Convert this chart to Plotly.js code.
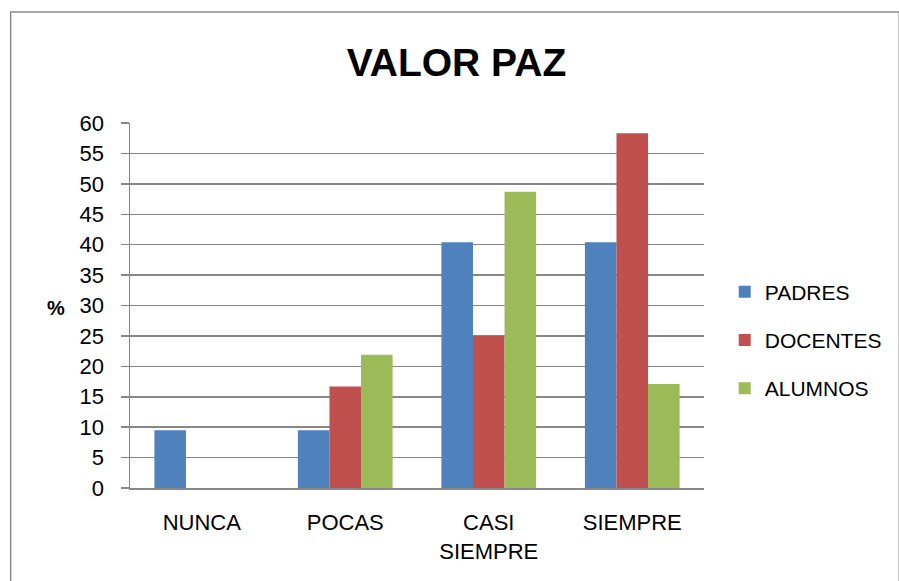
<!DOCTYPE html>
<html>
<head>
<meta charset="utf-8">
<script src="https://cdn.plot.ly/plotly-3.0.1.min.js"></script>
<style>html,body{margin:0;padding:0;background:#fff;}#chart{width:899px;height:581px;}</style>
</head>
<body>
<div id="chart"></div>
<script>
// Data
const categories = ["NUNCA", "POCAS", "CASI<br>SIEMPRE", "SIEMPRE"];
const padres = [9.5, 9.5, 40.4, 40.4];
const docentes = [0, 16.7, 25.0, 58.3];
const alumnos = [0, 21.9, 48.7, 17.1];
const seriesNames = ["PADRES", "DOCENTES", "ALUMNOS"];
const yTicks = [0, 5, 10, 15, 20, 25, 30, 35, 40, 45, 50, 55, 60];

const colors = ["#4F81BD", "#C0504D", "#9BBB59"];
const seriesValues = [padres, docentes, alumnos];

const traces = seriesValues.map((vals, i) => ({
  type: "bar",
  name: seriesNames[i],
  x: categories,
  y: vals,
  legendgroup: "g" + i,
  marker: { color: colors[i], line: { width: 0 } },
  hoverinfo: "x+y+name"
}));

const W = 899, H = 581;
const L = 130, R = 899 - 712, T = 123, B = 581 - 488;
const pw = W - L - R, ph = H - T - B;
const px = v => (v - L) / pw;
const py = v => (H - B - v) / ph;

const layout = {
  width: W, height: H,
  margin: { l: L, r: R, t: T, b: B, pad: 0 },
  paper_bgcolor: "#ffffff",
  plot_bgcolor: "#ffffff",
  font: { family: "Liberation Sans, Arial, sans-serif", size: 22, color: "#000000" },
  title: {
    text: "<b>VALOR PAZ</b>",
    font: { family: "Liberation Sans, Arial, sans-serif", size: 39, color: "#000000" },
    xref: "paper", x: px(461), xanchor: "center",
    yref: "container", y: 1 - 62 / H, yanchor: "middle"
  },
  barmode: "group",
  bargap: 0.34,
  bargroupgap: 0,
  showlegend: true,
  legend: {
    x: px(733), xanchor: "left",
    y: py(340), yanchor: "middle",
    traceorder: "grouped",
    tracegroupgap: 18,
    font: { family: "Liberation Sans, Arial, sans-serif", size: 21, color: "#000000" },
    bgcolor: "rgba(0,0,0,0)"
  },
  xaxis: {
    type: "category",
    showgrid: false,
    showline: true, linecolor: "#878787", linewidth: 1.5,
    ticks: "",
    ticklabelstandoff: 14,
    tickfont: { size: 22 },
    zeroline: false,
    fixedrange: true
  },
  yaxis: {
    range: [0, 60],
    tickvals: yTicks,
    ticktext: yTicks.map(String),
    showgrid: true, gridcolor: "#878787", gridwidth: 1.5,
    showline: true, linecolor: "#878787", linewidth: 1.5,
    ticks: "outside", ticklen: 8, tickcolor: "#878787", tickwidth: 1.5,
    ticklabelstandoff: 12,
    tickfont: { size: 22 },
    zeroline: false,
    fixedrange: true
  },
  annotations: [{
    text: "<b>%</b>",
    xref: "paper", yref: "paper",
    x: px(55), y: py(308),
    xanchor: "center", yanchor: "middle",
    showarrow: false,
    font: { size: 20, color: "#000000" }
  }],
  shapes: [{
    type: "rect", xref: "paper", yref: "paper",
    x0: px(9), x1: px(910), y0: py(600), y1: py(12),
    line: { color: "#8a8a8a", width: 1.5 },
    fillcolor: "rgba(0,0,0,0)", layer: "below"
  }]
};

Plotly.newPlot("chart", traces, layout, { displayModeBar: false, staticPlot: true });
</script>
</body>
</html>
